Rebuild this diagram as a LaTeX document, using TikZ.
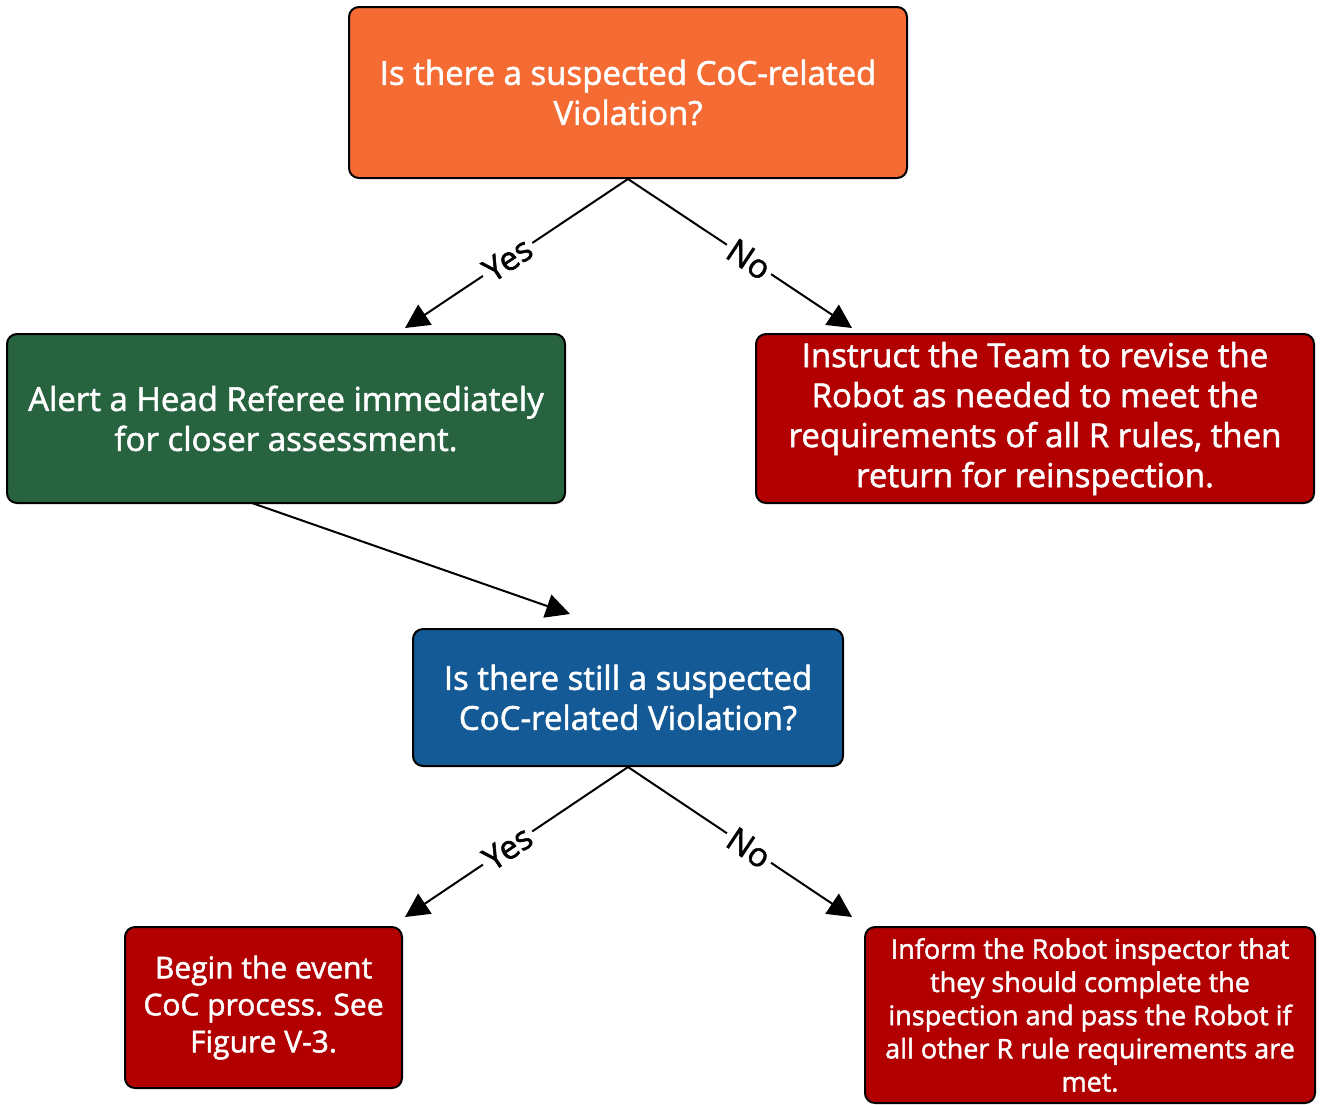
\documentclass[tikz,border=0pt]{standalone}
\usepackage{fontspec}
\setmainfont{Open Sans}[FakeBold=1.6]
\usetikzlibrary{arrows.meta}
\definecolor{cocorange}{HTML}{F46B34}
\definecolor{cocgreen}{HTML}{27633F}
\definecolor{cocred}{HTML}{B20000}
\definecolor{cocblue}{HTML}{135A96}
\begin{document}
\begin{tikzpicture}[x=0.5pt,y=-0.5pt,
	box/.style={draw=black,line width=1pt,rounded corners=5pt,text=white,align=center,
		font=\fontsize{16.5}{20}\selectfont,inner sep=2pt},
	link/.style={line width=1pt,-{Triangle[length=12pt,width=12pt]}},
	answer/.style={pos=0.54,sloped,fill=white,inner sep=2pt,font=\fontsize{16.5}{18}\selectfont}]
	\useasboundingbox (0,0) rectangle (1325,1104);
	%first question
	\node[box,fill=cocorange,minimum width=279pt,minimum height=85.5pt] (q1) at (628,92.5)
		{Is there a suspected CoC-related\\Violation?};
	\node[box,fill=cocgreen,minimum width=279pt,minimum height=84.5pt] (alert) at (286,418.5)
		{Alert a Head Referee immediately\\for closer assessment.};
	\node[box,fill=cocred,minimum width=279pt,minimum height=84.5pt] (revise) at (1035,418.5)
		{Instruct the Team to revise the\\Robot as needed to meet the\\requirements of all R rules, then\\return for reinspection.};
	\coordinate (yes1) at (405,328);
	\coordinate (no1) at (852,328);
	\draw[link] (q1.south) -- (yes1) node[answer]{Yes};
	\draw[link] (q1.south) -- (no1) node[answer]{No};
	%second question
	\node[box,fill=cocblue,minimum width=215pt,minimum height=68.5pt] (q2) at (628,697.5)
		{Is there still a suspected\\CoC-related Violation?};
	\coordinate (from2) at (252,503);
	\coordinate (to2) at (570,614);
	\draw[link] (from2) -- (to2);
	\node[box,fill=cocred,minimum width=138.5pt,minimum height=80.5pt,
		font=\fontsize{15}{18.5}\selectfont] (coc) at (263.5,1007.5)
		{Begin the event\\CoC process. See\\Figure V-3.};
	\node[box,fill=cocred,minimum width=225pt,minimum height=88pt,
		font=\fontsize{13.5}{16.6}\selectfont] (inform) at (1090,1015)
		{Inform the Robot inspector that\\they should complete the\\inspection and pass the Robot if\\all other R rule requirements are\\met.};
	\coordinate (yes2) at (405,917);
	\coordinate (no2) at (852,917);
	\draw[link] (q2.south) -- (yes2) node[answer]{Yes};
	\draw[link] (q2.south) -- (no2) node[answer]{No};
\end{tikzpicture}
\end{document}
